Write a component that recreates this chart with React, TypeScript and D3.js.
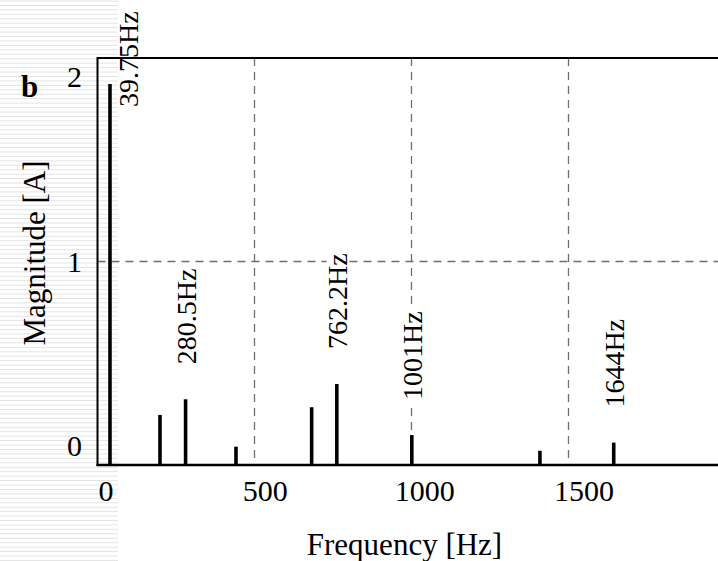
import React, { useEffect, useRef } from "react";
import * as d3 from "d3";

// ---- data ----
const peakFrequencies = [39.75, 199, 280.5, 441, 682, 762.2, 1001, 1409, 1644];
const peakMagnitudes = [1.872, 0.246, 0.323, 0.09, 0.284, 0.398, 0.147, 0.07, 0.11];
const annotatedFrequencies = [39.75, 280.5, 762.2, 1001, 1644];
const annotationLabels = ["39.75Hz", "280.5Hz", "762.2Hz", "1001Hz", "1644Hz"];
const xTickValues = [0, 500, 1000, 1500];
const xTickLabels = ["0", "500", "1000", "1500"];
const yTickValues = [0, 1, 2];
const yTickLabels = ["0", "1", "2"];
const xGridValues = [500, 1000, 1500];
const yGridValues = [1];
const xAxisTitle = "Frequency [Hz]";
const yAxisTitle = "Magnitude [A]";
const panelLabel = "b";

const W = 718;
const H = 561;
const FONT = "'Liberation Serif', 'Times New Roman', serif";

export default function App() {
  const ref = useRef<SVGSVGElement | null>(null);

  useEffect(() => {
    const svg = d3.select(ref.current!);
    svg.selectAll("*").remove();

    const left = 97.5, top = 58, bottom = 465;
    const x = d3.scaleLinear().domain([0, 2000]).range([left, left + 2000 * 0.314]);
    const y = d3.scaleLinear().domain([0, 2]).range([bottom, top]);
    // label placement scales (labels in the reference sit offset from their gridlines)
    const xLab = d3.scaleLinear().domain([0, 1500]).range([106, 584]);
    const yLab = d3.scaleLinear().domain([0, 2]).range([446, 77]);

    // background stripes on the left edge (scan artifact)
    svg.append("g")
      .selectAll("line")
      .data(d3.range(1, H, 4.44))
      .join("line")
      .attr("x1", 0).attr("x2", 118)
      .attr("y1", (d) => d).attr("y2", (d) => d)
      .attr("stroke", "#e4e4e4").attr("stroke-width", 1);

    // grid
    const grid = svg.append("g").attr("stroke", "#6e6e6e").attr("stroke-width", 1.3).attr("stroke-dasharray", "8,6");
    grid.selectAll("line.v").data(xGridValues).join("line").attr("class", "v")
      .attr("x1", (d) => x(d)).attr("x2", (d) => x(d)).attr("y1", top).attr("y2", bottom);
    grid.selectAll("line.h").data(yGridValues).join("line").attr("class", "h")
      .attr("x1", left).attr("x2", W).attr("y1", (d) => y(d)).attr("y2", (d) => y(d));

    // bars
    svg.append("g").selectAll("line")
      .data(peakFrequencies.map((f, i) => ({ f, v: peakMagnitudes[i] })))
      .join("line")
      .attr("x1", (d) => x(d.f)).attr("x2", (d) => x(d.f))
      .attr("y1", bottom).attr("y2", (d) => y(d.v))
      .attr("stroke", "#000").attr("stroke-width", 3.6);

    // annotations
    const annFs = 28;
    const ann = svg.append("g").attr("font-family", FONT).attr("font-size", annFs);
    annotatedFrequencies.forEach((f, i) => {
      const idx = peakFrequencies.indexOf(f);
      const v = peakMagnitudes[idx];
      const label = annotationLabels[i];
      const g = ann.append("g");
      const rect = g.append("rect").attr("fill", "#fff");
      const t = g.append("text").attr("x", 0).attr("y", 0).attr("fill", "#000").text(label);
      const len = (t.node() as SVGTextElement).getComputedTextLength();
      let bx = x(f) + 10;
      let sy = y(v) - 35;
      if (sy - len < 0) {
        bx = x(f) + 28;
        sy = y(2) + 49;
      }
      rect.attr("x", -2).attr("y", -annFs * 0.72).attr("width", len + 4).attr("height", annFs * 0.78);
      g.attr("transform", `translate(${bx},${sy}) rotate(-90)`);
    });

    // spines
    const sp = svg.append("g").attr("stroke", "#000");
    sp.append("line").attr("x1", left).attr("x2", W).attr("y1", top).attr("y2", top).attr("stroke-width", 1.8);
    sp.append("line").attr("x1", left).attr("x2", left).attr("y1", top - 0.9).attr("y2", bottom + 1).attr("stroke-width", 2);
    sp.append("line").attr("x1", left - 1).attr("x2", W).attr("y1", bottom).attr("y2", bottom).attr("stroke-width", 2.4);

    // tick labels
    const tickFs = 30;
    svg.append("g").attr("font-family", FONT).attr("font-size", tickFs).attr("text-anchor", "middle")
      .selectAll("text").data(xTickValues).join("text")
      .attr("x", (d) => xLab(d)).attr("y", 501)
      .text((d, i) => xTickLabels[i]);
    svg.append("g").attr("font-family", FONT).attr("font-size", tickFs).attr("text-anchor", "end")
      .selectAll("text").data(yTickValues).join("text")
      .attr("x", 82).attr("y", (d) => yLab(d) + tickFs * 0.34)
      .text((d, i) => yTickLabels[i]);

    // axis titles
    svg.append("text").attr("font-family", FONT).attr("font-size", 31).attr("text-anchor", "middle")
      .attr("x", 404.5).attr("y", 555).text(xAxisTitle);
    svg.append("text").attr("font-family", FONT).attr("font-size", 31).attr("text-anchor", "middle")
      .attr("transform", "translate(45,253) rotate(-90)").text(yAxisTitle);

    // panel label
    svg.append("text").attr("font-family", FONT).attr("font-size", 31).attr("font-weight", "bold")
      .attr("x", 21).attr("y", 97).text(panelLabel);
  }, []);

  return (
    <svg
      ref={ref}
      width={W}
      height={H}
      style={{ position: "fixed", left: 0, top: 0, background: "#fff" }}
    />
  );
}
